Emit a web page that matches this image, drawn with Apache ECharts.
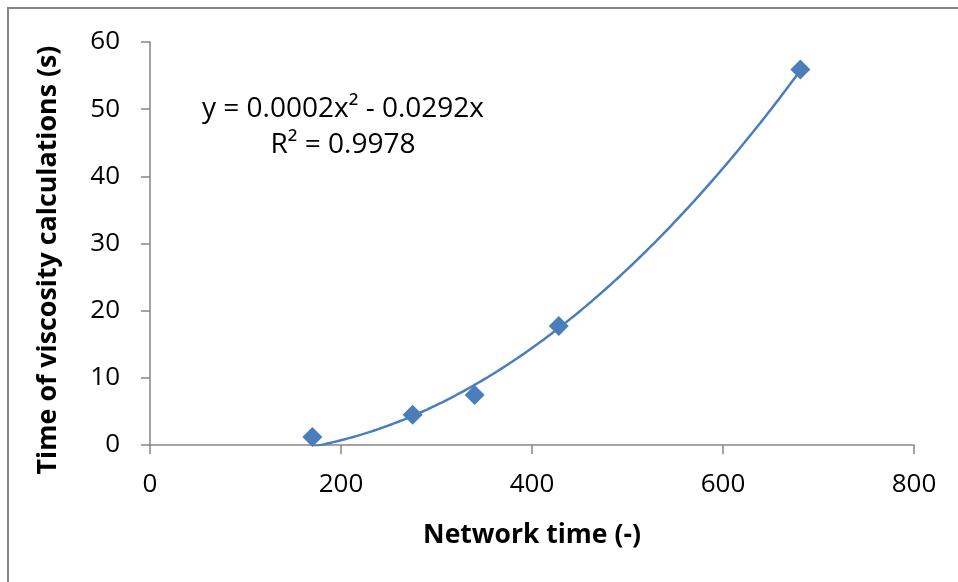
<!DOCTYPE html>
<html><head><meta charset="utf-8">
<script src="https://cdn.jsdelivr.net/npm/echarts@6/dist/echarts.min.js"></script>
<style>html,body{margin:0;padding:0;background:#fff}#c{width:958px;height:582px}</style>
</head><body><div id="c"></div>
<script>
const networkTime = [170, 275, 340, 428, 681];
const viscosityTime = [1.2, 4.5, 7.45, 17.7, 55.9];
const xTicks = [0, 200, 400, 600, 800];
const yTicks = [0, 10, 20, 30, 40, 50, 60];
const xTitle = 'Network time (-)';
const yTitle = 'Time of viscosity calculations (s)';
const equationText = 'y = 0.0002x² - 0.0292x';
const r2Text = 'R² = 0.9978';

// Least-squares fit y = a x^2 + b x (zero intercept), like the Excel trendline
function fitQuad(xs, ys){
  let s4=0,s3=0,s2=0,sx2y=0,sxy=0;
  for(let i=0;i<xs.length;i++){const x=xs[i],y=ys[i];s4+=x**4;s3+=x**3;s2+=x*x;sx2y+=x*x*y;sxy+=x*y;}
  const det=s4*s2-s3*s3;
  return {a:(sx2y*s2-s3*sxy)/det, b:(s4*sxy-s3*sx2y)/det};
}
const fit = fitQuad(networkTime, viscosityTime);
const trend = [];
const x0 = Math.min(...networkTime), x1 = Math.max(...networkTime);
for(let i=0;i<=200;i++){const x=x0+(x1-x0)*i/200; trend.push([x, fit.a*x*x+fit.b*x]);}

const font = '"Open Sans", "Liberation Sans", sans-serif';
const axisColor = '#868686';
const chart = echarts.init(document.getElementById('c'));
chart.setOption({
  animation:false,
  grid:{left:150,right:44,top:42,bottom:137},
  xAxis:{type:'value',min:xTicks[0],max:xTicks[xTicks.length-1],interval:200,
    name:xTitle,nameLocation:'middle',nameGap:77,
    nameTextStyle:{fontFamily:font,fontSize:26.5,fontWeight:'bold',color:'#000'},
    axisLine:{show:true,onZero:false,lineStyle:{color:axisColor,width:1.5}},
    axisTick:{show:true,length:9,lineStyle:{color:axisColor,width:1.5}},
    axisLabel:{fontFamily:font,fontSize:26,color:'#000',margin:27},
    splitLine:{show:false}},
  yAxis:{type:'value',min:yTicks[0],max:yTicks[yTicks.length-1],interval:10,
    axisLine:{show:true,lineStyle:{color:axisColor,width:1.5}},
    axisTick:{show:true,length:9,lineStyle:{color:axisColor,width:1.5}},
    axisLabel:{fontFamily:font,fontSize:26,color:'#000',margin:30},
    splitLine:{show:false}},
  series:[
    {type:'line',data:trend,showSymbol:false,symbol:'none',smooth:false,clip:true,
      lineStyle:{color:'#4a7ebb',width:2.5},z:2},
    {type:'scatter',data:networkTime.map((x,i)=>[x,viscosityTime[i]]),symbol:'diamond',symbolSize:[20,20],
      itemStyle:{color:'#4a7ebb',opacity:1},z:3}
  ],
  graphic:[
    {type:'rect',shape:{x:8,y:8,width:1000,height:1000},style:{fill:'none',stroke:axisColor,lineWidth:2},silent:true},
    {type:'text',x:48,y:260,rotation:Math.PI/2,style:{text:yTitle,font:'bold 26.8px '+font,fill:'#000',textAlign:'center',textVerticalAlign:'middle'}},
    {type:'text',x:343,y:109,style:{text:equationText,font:'28px '+font,fill:'#000',textAlign:'center',textVerticalAlign:'middle'}},
    {type:'text',x:343,y:145,style:{text:r2Text,font:'28px '+font,fill:'#000',textAlign:'center',textVerticalAlign:'middle'}}
  ]
});
</script></body></html>
